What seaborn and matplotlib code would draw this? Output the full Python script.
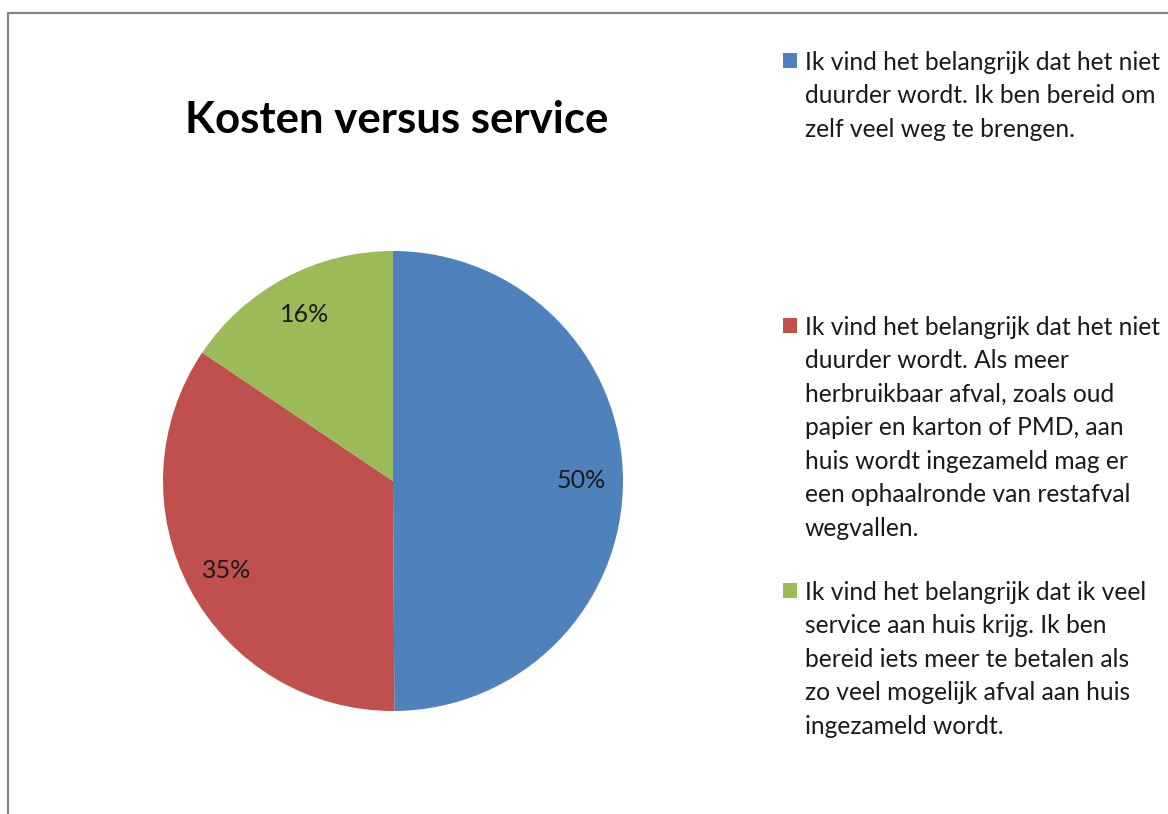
import matplotlib
matplotlib.use("Agg")
import matplotlib.pyplot as plt
from matplotlib.patches import Rectangle
import seaborn as sns

# ------------------------------------------------------------
# Data
# ------------------------------------------------------------
title = "Kosten versus service"
categories = [
    "Ik vind het belangrijk dat het niet\nduurder wordt. Ik ben bereid om\nzelf veel weg te brengen.",
    "Ik vind het belangrijk dat het niet\nduurder wordt. Als meer\nherbruikbaar afval, zoals oud\npapier en karton of PMD, aan\nhuis wordt ingezameld mag er\neen ophaalronde van restafval\nwegvallen.",
    "Ik vind het belangrijk dat ik veel\nservice aan huis krijg. Ik ben\nbereid iets meer te betalen als\nzo veel mogelijk afval aan huis\ningezameld wordt.",
]
shares = [50, 34.6, 15.6]
colors = ["#4F81BD", "#C0504D", "#9BBB59"]

# ------------------------------------------------------------
# Style
# ------------------------------------------------------------
sns.set_theme(style="white")
plt.rcParams["font.family"] = ["Lato", "DejaVu Sans"]

W, H = 1168, 814
fig = plt.figure(figsize=(W / 100, H / 100), dpi=100)
fig.patch.set_facecolor("white")

# chart-area border (only top and left visible in the reference)
fig.add_artist(Rectangle((8 / W, -0.1), 1.2, 1.1 - 13 / H, transform=fig.transFigure,
                         fill=False, edgecolor="#868686", linewidth=1.6))

# pie axes: centre (393, 481) px, radius 230 px
cx, cy, r = 393, 481, 230
ax = fig.add_axes([(cx - r) / W, (H - cy - r) / H, 2 * r / W, 2 * r / H])
wedges, texts, autotexts = ax.pie(
    shares, colors=colors, startangle=90, counterclock=False,
    autopct=lambda p: f"{p:.0f}%", pctdistance=0.82,
    textprops={"fontsize": 18, "color": "#1a1a1a"},
    wedgeprops={"linewidth": 0},
)
ax.set_xlim(-1, 1)
ax.set_ylim(-1, 1)
ax.set_aspect("equal")
ax.axis("off")

# title
fig.text(397 / W, 1 - 133 / H, title, ha="center", va="baseline",
         fontsize=31.5, fontweight="bold", color="black")

# legend (marker aligned with the first text line, as in Excel)
marker_tops = [53, 318, 583]
for lab, col, yt in zip(categories, colors, marker_tops):
    fig.add_artist(Rectangle((783 / W, 1 - (yt + 15) / H), 14 / W, 15 / H,
                             transform=fig.transFigure, facecolor=col,
                             edgecolor="none"))
    fig.text(805 / W, 1 - (yt - 2) / H, lab, ha="left", va="top",
             fontsize=17.7, color="#1a1a1a", linespacing=1.55)

plt.savefig("out.png", dpi=100, facecolor="white")
